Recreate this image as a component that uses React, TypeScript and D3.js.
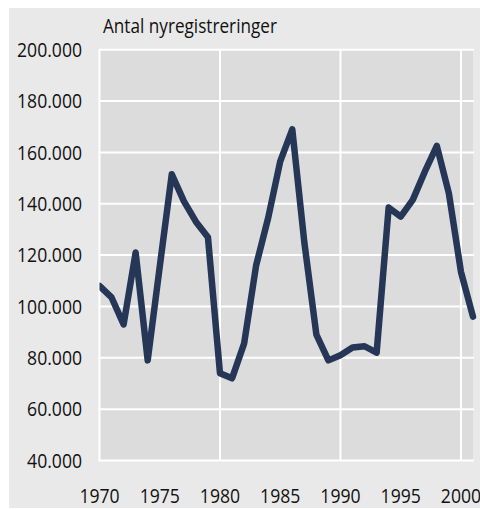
import React, { useRef, useEffect } from 'react';
import * as d3 from 'd3';

const years = d3.range(1970, 2002);
const registrations = [
  108000, 103500, 93000, 121000, 79000, 115500, 151500, 141000, 133000, 127000,
  74000, 72000, 85500, 116000, 134500, 156500, 169000, 125000, 89000, 79000,
  81000, 84000, 84500, 82000, 138500, 135000, 141500, 152500, 162500, 144000,
  113500, 96000,
];
const yTicks = [40000, 60000, 80000, 100000, 120000, 140000, 160000, 180000, 200000];
const xTicks = [1970, 1975, 1980, 1985, 1990, 1995, 2000];
const xGrid = [1970, 1980, 1990, 2000];
const title = 'Antal nyregistreringer';

const fmt = (v: number) => d3.format(',')(v).replace(/,/g, '.');

function App() {
  const svgRef = useRef<SVGSVGElement>(null);

  useEffect(() => {
    const svg = d3.select(svgRef.current);
    svg.selectAll('*').remove();

    const width = 480;
    const height = 509;
    const margin = { top: 49.7, right: 7, bottom: 48.5, left: 99.5 };
    const font = "'Open Sans', sans-serif";
    const squeeze = 0.88; // narrower glyphs, like the condensed original face

    // outer panel
    svg.append('rect')
      .attr('x', 9).attr('y', 8)
      .attr('width', width - 9).attr('height', 500)
      .attr('fill', '#e9e9e9');

    const x = d3.scaleLinear()
      .domain([1970, 2001])
      .range([margin.left, width - margin.right]);

    const y = d3.scaleLinear()
      .domain([40000, 200000])
      .range([height - margin.bottom, margin.top]);

    // plot area
    svg.append('rect')
      .attr('x', x(1970)).attr('y', y(200000))
      .attr('width', x(2001) - x(1970)).attr('height', y(40000) - y(200000))
      .attr('fill', '#dcdcdc');

    const grid = svg.append('g').attr('stroke', '#ffffff').attr('stroke-width', 2);
    grid.selectAll('line.h')
      .data(yTicks)
      .enter().append('line')
      .attr('x1', x(1970) - 1).attr('x2', x(2001) + 1)
      .attr('y1', d => y(d)).attr('y2', d => y(d));
    grid.selectAll('line.v')
      .data(xGrid)
      .enter().append('line')
      .attr('x1', d => x(d)).attr('x2', d => x(d))
      .attr('y1', y(200000)).attr('y2', y(40000));

    svg.append('defs').append('clipPath').attr('id', 'plotclip')
      .append('rect')
      .attr('x', x(1970)).attr('y', 0)
      .attr('width', x(2001) - x(1970) + 4).attr('height', height);

    const line = d3.line<number>()
      .x((d, i) => x(years[i]))
      .y(d => y(d));

    svg.append('path')
      .datum(registrations)
      .attr('clip-path', 'url(#plotclip)')
      .attr('fill', 'none')
      .attr('stroke', '#253656')
      .attr('stroke-width', 6.5)
      .attr('stroke-linejoin', 'round')
      .attr('stroke-linecap', 'round')
      .attr('d', line);

    // y labels
    svg.append('g')
      .attr('font-family', font)
      .attr('font-size', 20)
      .attr('fill', '#111')
      .attr('text-anchor', 'end')
      .selectAll('text')
      .data(yTicks)
      .enter().append('text')
      .attr('transform', d => `translate(82,${y(d)}) scale(${squeeze},1)`)
      .attr('dy', '0.36em')
      .text(d => fmt(d));

    // x labels
    svg.append('g')
      .attr('font-family', font)
      .attr('font-size', 20)
      .attr('fill', '#111')
      .attr('text-anchor', 'middle')
      .selectAll('text')
      .data(xTicks)
      .enter().append('text')
      .attr('transform', d => `translate(${x(d)},503) scale(${squeeze},1)`)
      .text(d => d);

    svg.append('text')
      .attr('transform', `translate(103,33) scale(${squeeze},1)`)
      .attr('font-family', font)
      .attr('font-size', 19.5)
      .attr('fill', '#111')
      .text(title);
  }, []);

  return (
    <svg
      ref={svgRef}
      width={480}
      height={509}
      style={{ position: 'absolute', left: 0, top: 0, display: 'block' }}
    />
  );
}

export default App;
